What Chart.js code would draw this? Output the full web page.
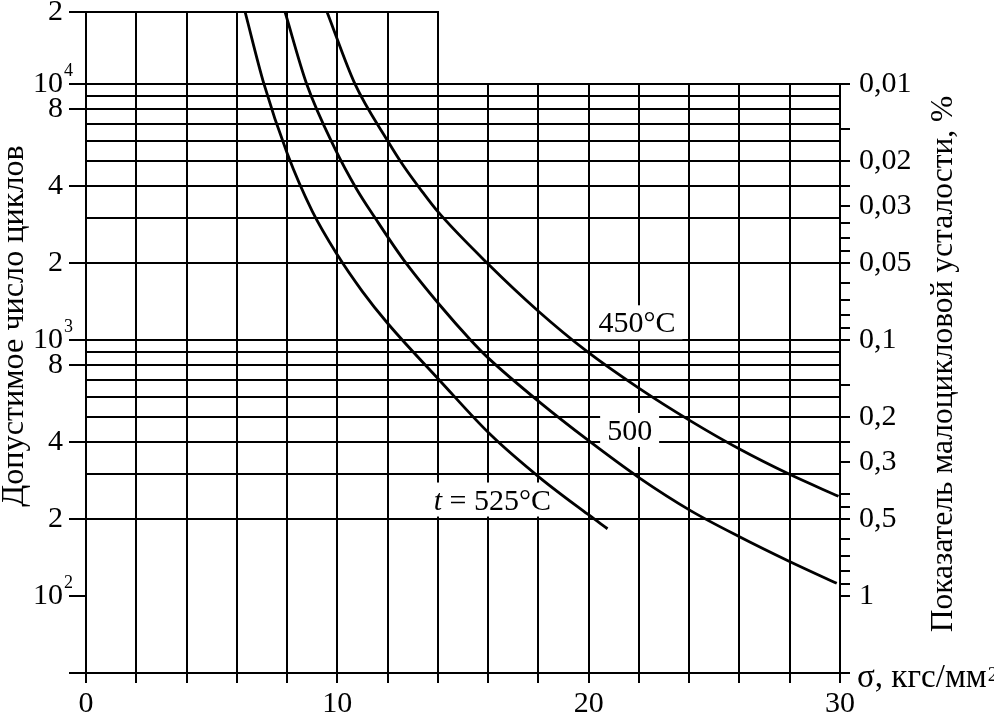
<!DOCTYPE html>
<html><head><meta charset="utf-8">
<script src="https://cdn.jsdelivr.net/npm/chart.js@4.4.1/dist/chart.umd.min.js"></script>
<style>html,body{margin:0;padding:0;background:#fff;}canvas{display:block;}</style>
</head><body>
<canvas id="c" width="994" height="713"></canvas>
<script>
// ---- data ----
const SIGMA_450 = [9.59, 10.7, 12.0, 12.63, 13.4, 14.0, 16.0, 18.0, 19.92, 21.98, 24.05, 26.02, 27.95, 29.94];
const CYCLES_450 = [19100, 10000, 6000, 4790, 3770, 3170, 1980, 1295, 904, 650, 483, 374, 300, 245];
const SIGMA_500 = [7.92, 8.78, 9.9, 10.77, 11.5, 12.63, 14.1, 15.3, 16.0, 18.07, 20.0, 22.0, 24.07, 26.02, 27.95, 29.87];
const CYCLES_500 = [19100, 10000, 5600, 3880, 3000, 2060, 1360, 1000, 851, 569, 404, 290, 215, 170, 137, 112];
const SIGMA_525 = [6.33, 7.08, 8.0, 9.0, 10.0, 11.0, 12.0, 14.1, 16.08, 18.05, 19.95, 20.75];
const CYCLES_525 = [19100, 10000, 5370, 3185, 2150, 1545, 1162, 690, 428, 290, 209, 183];

const CURVE_NAMES = ['450°C', '500', 't = 525°C'];

// axes
const X_MIN = 0, X_MAX = 30, X_STEP = 2;
const X_LABELED = [0, 10, 20, 30];
const FULL_HEIGHT_SIGMA_MAX = 14;     // vertical grid lines reaching the top edge
const Y_MIN = 50, Y_TOP = 19100;       // top edge (label "2", i.e. 2·10^4)
const LEFT_TICKS = [50, 100, 200, 300, 400, 500, 600, 700, 800, 900, 1000, 2000, 3000, 4000, 5000, 6000, 7000, 8000, 9000, 10000, 19100];
const GRID_CYCLES = [200, 300, 400, 500, 600, 700, 800, 900, 1000, 2000, 3000, 4000, 5000, 6000, 7000, 8000, 9000, 10000];
const LEFT_LABELS = {100: '10', 200: '2', 400: '4', 800: '8', 1000: '10', 2000: '2', 4000: '4', 8000: '8', 10000: '10', 19100: '2'};
const LEFT_EXPONENTS = {100: '2', 1000: '3', 10000: '4'};
const RIGHT_PCT = [0.01, 0.015, 0.02, 0.025, 0.03, 0.035, 0.04, 0.045, 0.05, 0.06, 0.07, 0.08, 0.09,
                   0.1, 0.15, 0.2, 0.25, 0.3, 0.4, 0.45, 0.5, 0.6, 0.7, 0.8, 0.9, 1, 2];
const RIGHT_LABELED = [0.01, 0.02, 0.03, 0.05, 0.1, 0.2, 0.3, 0.5, 1];

const LEFT_TITLE = 'Допустимое число циклов';
const RIGHT_TITLE = 'Показатель малоцикловой усталости, %';
const X_UNIT = 'σ, кгс/мм';
const X_UNIT_EXP = '2';

// label anchors (data coordinates, text centre)
const LABEL_ANCHORS = [
  {sigma: 21.92, cycles: 1172},
  {sigma: 21.63, cycles: 445},
  {sigma: 16.17, cycles: 238}
];

// ---- styling ----
const FONT = '"Liberation Serif", "Times New Roman", serif';
const FS = 30;
Chart.defaults.font.family = FONT;
Chart.defaults.color = '#000';

function pts(xs, ys) { return xs.map((x, i) => ({x: x, y: ys[i]})); }
const lineDs = (data) => ({
  data: data, borderColor: '#000', borderWidth: 2.8, pointRadius: 0,
  cubicInterpolationMode: 'monotone', fill: false, yAxisID: 'y', xAxisID: 'x'
});

function fitFont(ctx, text, target, base) {
  ctx.font = base + 'px ' + FONT;
  const w = ctx.measureText(text).width;
  return base * target / w;
}

const decor = {
  id: 'decor',
  beforeDatasetsDraw(chart) {
    const {ctx, chartArea: a, scales} = chart;
    const x = scales.x, y = scales.y;
    ctx.save();
    ctx.strokeStyle = '#000';
    ctx.lineWidth = 2;
    const yTop = Math.round(y.getPixelForValue(Y_TOP));
    const y4 = Math.round(y.getPixelForValue(1e4));
    const yb = Math.round(a.bottom);
    const seg = (x1, y1, x2, y2) => { ctx.beginPath(); ctx.moveTo(x1, y1); ctx.lineTo(x2, y2); ctx.stroke(); };
    for (let v = X_MIN + X_STEP; v <= X_MAX; v += X_STEP) {
      const px = Math.round(x.getPixelForValue(v));
      seg(px, v <= FULL_HEIGHT_SIGMA_MAX ? yTop : y4, px, yb);
    }
    seg(Math.round(x.getPixelForValue(X_MIN)) - 1, yTop, Math.round(x.getPixelForValue(FULL_HEIGHT_SIGMA_MAX)) + 1, yTop);

    ctx.fillStyle = '#000';
    // exponents on left axis
    ctx.font = '18px ' + FONT;
    ctx.textAlign = 'left';
    ctx.textBaseline = 'alphabetic';
    const xr = y.right - 17 - 6;
    Object.keys(LEFT_EXPONENTS).forEach(k => {
      const py = y.getPixelForValue(+k);
      ctx.fillText(LEFT_EXPONENTS[k], xr + 1, py - 8);
    });

    // curve labels with white backing
    LABEL_ANCHORS.forEach((an, i) => {
      const cx = x.getPixelForValue(an.sigma), cy = y.getPixelForValue(an.cycles);
      const txt = CURVE_NAMES[i];
      let parts;
      if (txt.startsWith('t ')) parts = [{t: 't', f: 'italic ' + FS + 'px ' + FONT}, {t: txt.slice(1), f: FS + 'px ' + FONT}];
      else parts = [{t: txt, f: FS + 'px ' + FONT}];
      let w = 0;
      parts.forEach(p => { ctx.font = p.f; p.w = ctx.measureText(p.t).width; w += p.w; });
      ctx.fillStyle = '#fff';
      ctx.fillRect(cx - w / 2 - 7, cy - 17, w + 14, 34);
      ctx.fillStyle = '#000';
      let xx = cx - w / 2;
      ctx.textAlign = 'left';
      parts.forEach(p => { ctx.font = p.f; ctx.fillText(p.t, xx, cy + 10); xx += p.w; });
    });

    // axis titles (sized to the reference extent)
    ctx.textAlign = 'center';
    let fs = fitFont(ctx, LEFT_TITLE, 362, FS);
    ctx.font = fs.toFixed(1) + 'px ' + FONT;
    ctx.save();
    ctx.translate(23, 326);
    ctx.rotate(-Math.PI / 2);
    ctx.fillText(LEFT_TITLE, 0, 0);
    ctx.restore();
    fs = fitFont(ctx, RIGHT_TITLE, 537, FS);
    ctx.font = fs.toFixed(1) + 'px ' + FONT;
    ctx.save();
    ctx.translate(952, 364);
    ctx.rotate(-Math.PI / 2);
    ctx.fillText(RIGHT_TITLE, 0, 0);
    ctx.restore();

    // unit label
    ctx.textAlign = 'left';
    fs = fitFont(ctx, X_UNIT, 130, FS);
    ctx.font = fs.toFixed(1) + 'px ' + FONT;
    const ux = 857, uy = 687;
    ctx.fillText(X_UNIT, ux, uy);
    const uw = ctx.measureText(X_UNIT).width;
    ctx.font = '20px ' + FONT;
    ctx.fillText(X_UNIT_EXP, ux + uw + 1, uy - 6);

    ctx.restore();
  }
};

new Chart(document.getElementById('c'), {
  type: 'line',
  data: {
    datasets: [
      lineDs(pts(SIGMA_450, CYCLES_450)),
      lineDs(pts(SIGMA_500, CYCLES_500)),
      lineDs(pts(SIGMA_525, CYCLES_525))
    ]
  },
  options: {
    responsive: false,
    animation: false,
    devicePixelRatio: 1,
    layout: {padding: {top: 12, left: 0, right: 0, bottom: 0}},
    plugins: {legend: {display: false}, tooltip: {enabled: false}},
    scales: {
      x: {
        type: 'linear', min: X_MIN, max: X_MAX, position: 'bottom',
        afterFit: s => { s.height = 40; s.paddingLeft = 0; s.paddingRight = 0; },
        ticks: {stepSize: X_STEP, autoSkip: false, maxRotation: 0, padding: 3,
                font: {size: FS, family: FONT},
                callback: v => X_LABELED.includes(v) ? String(v) : ''},
        grid: {drawOnChartArea: false, drawTicks: true, tickLength: 10, color: '#000', tickColor: '#000', lineWidth: 2},
        border: {display: true, color: '#000', width: 2}
      },
      y: {
        type: 'logarithmic', min: Y_MIN, max: Y_TOP, position: 'left',
        afterFit: s => { s.width = 86; s.paddingTop = 0; s.paddingBottom = 0; },
        afterBuildTicks: s => { s.ticks = LEFT_TICKS.map(v => ({value: v})); },
        ticks: {autoSkip: false, padding: 6, font: {size: FS, family: FONT},
                callback: v => LEFT_LABELS[v] || ''},
        grid: {
          drawOnChartArea: true, drawTicks: true, tickLength: 17, lineWidth: 2,
          color: c => (c.tick && GRID_CYCLES.includes(c.tick.value)) ? '#000' : 'rgba(0,0,0,0)',
          tickColor: c => (c.tick && (LEFT_LABELS[c.tick.value] || c.tick.value === Y_MIN)) ? '#000' : 'rgba(0,0,0,0)'
        },
        border: {display: true, color: '#000', width: 2}
      },
      y2: {
        type: 'logarithmic', min: Y_MIN, max: Y_TOP, position: 'right',
        afterFit: s => { s.width = 154; s.paddingTop = 0; s.paddingBottom = 0; },
        afterBuildTicks: s => { s.ticks = RIGHT_PCT.map(p => ({value: 100 / p})); },
        ticks: {autoSkip: false, padding: 9, font: {size: FS, family: FONT},
                callback: v => { const p = +(100 / v).toFixed(4); return RIGHT_LABELED.includes(p) ? String(p).replace('.', ',') : ''; }},
        grid: {drawOnChartArea: false, drawTicks: true, tickLength: 10, lineWidth: 2, color: '#000', tickColor: '#000'},
        border: {display: false}
      }
    }
  },
  plugins: [decor]
});
</script>
</body></html>
